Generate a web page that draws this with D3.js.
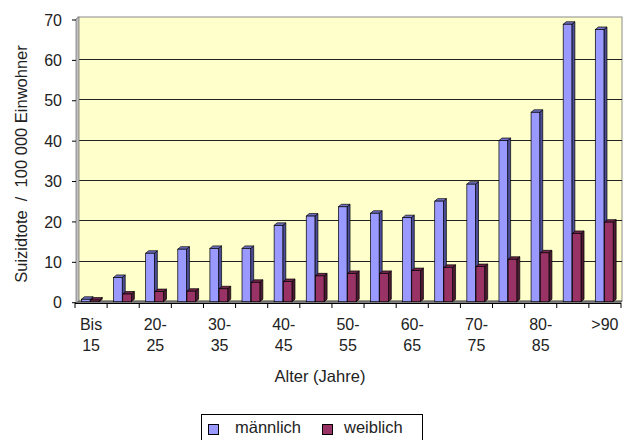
<!DOCTYPE html>
<html><head><meta charset="utf-8">
<script src="https://cdn.jsdelivr.net/npm/d3@7"></script>
<style>
html,body{margin:0;padding:0;background:#fff;}
svg{display:block;font-family:"Liberation Sans",Arial,sans-serif;}
</style></head>
<body>
<svg id="c" width="629" height="440"></svg>
<script>
const categories = ["Bis 15","15-20","20-25","25-30","30-35","35-40","40-45","45-50","50-55","55-60","60-65","65-70","70-75","75-80","80-85","85-90",">90"];
const tickLabels = [["Bis","15"],null,["20-","25"],null,["30-","35"],null,["40-","45"],null,["50-","55"],null,["60-","65"],null,["70-","75"],null,["80-","85"],null,[">90",""]];
const maleValues   = [0.6, 6.0, 12.0, 13.0, 13.2, 13.2, 18.9, 21.2, 23.5, 21.9, 20.8, 24.9, 29.1, 39.9, 46.9, 68.7, 67.4];
const femaleValues = [0.4, 1.9, 2.5, 2.6, 3.2, 4.8, 5.0, 6.4, 7.0, 7.0, 7.7, 8.5, 8.7, 10.5, 12.1, 16.9, 19.7];
const yTicks = [0,10,20,30,40,50,60,70];
const seriesNames = ["männlich","weiblich"];

const svg = d3.select("#c");
const dx = 3, dy = 2.5;
const x = d3.scaleBand().domain(categories).range([75, 621]).padding(0);
const y = d3.scaleLinear().domain([0,70]).range([301.7, 19]);
const bw = x.bandwidth();

const colors = {
  male: {front:"#9999FF", side:"#4C4C99", top:"#7373C8"},
  female: {front:"#993366", side:"#4D1A33", top:"#73264D"}
};

// back wall
const wallL = 78, wallR = 622, wallT = 17, wallB = 301;
svg.append("rect").attr("x", wallL).attr("y", wallT).attr("width", wallR-wallL).attr("height", wallB-wallT)
  .attr("fill","#FFFFCC").attr("stroke","#8c8c8c").attr("stroke-width",1);
// gridlines
svg.append("g").selectAll("line").data(yTicks.filter(v=>v>0 && v<70)).join("line")
  .attr("x1", wallL).attr("x2", wallR)
  .attr("y1", d=>Math.round(y(d)-0.5)+0.5).attr("y2", d=>Math.round(y(d)-0.5)+0.5)
  .attr("stroke","#222").attr("stroke-width",1);

// left wall
svg.append("path").attr("d", `M76,303 L76,19 L${wallL+1},${wallT} L${wallL+1},${wallB} Z`)
  .attr("fill","#c0c0c0").attr("stroke","#777").attr("stroke-width",0.8);
// floor
svg.append("path").attr("d", `M76,303.5 L${wallL+1},${wallB} L${wallR},${wallB} L${wallR-2},303.5 Z`)
  .attr("fill","#808080").attr("stroke","#333").attr("stroke-width",0.6);

// y axis ticks
const yg = svg.append("g");
yg.selectAll("line").data(yTicks).join("line")
  .attr("x1",72).attr("x2",76).attr("y1",d=>y(d)+1).attr("y2",d=>y(d)+1)
  .attr("stroke","#000");
yg.selectAll("text").data(yTicks).join("text")
  .attr("x",62).attr("y",d=>y(d)+1).attr("dy","0.35em").attr("text-anchor","end")
  .attr("font-size",16).attr("fill","#222").text(d=>d);

// x axis line and ticks
const xg = svg.append("g");
xg.append("line").attr("x1",75).attr("x2",621).attr("y1",303.5).attr("y2",303.5).attr("stroke","#000");
xg.selectAll("line.t").data(d3.range(categories.length+1)).join("line").attr("class","t")
  .attr("x1",i=>75+i*bw).attr("x2",i=>75+i*bw).attr("y1",303).attr("y2",308).attr("stroke","#000");
categories.forEach((c,i)=>{
  const lab = tickLabels[i];
  if(!lab) return;
  const t = xg.append("text").attr("text-anchor","middle").attr("font-size",16).attr("fill","#222");
  t.append("tspan").attr("x", x(c)+bw/2).attr("y",330).text(lab[0]);
  if(lab[1]) t.append("tspan").attr("x", x(c)+bw/2).attr("y",351).text(lab[1]);
});

// bars
function bar3d(g, x0, w, v, col){
  const yt = y(v), yb = y(0);
  g.append("path").attr("d",`M${x0+w},${yb} L${x0+w+dx},${yb-dy} L${x0+w+dx},${yt-dy} L${x0+w},${yt} Z`)
    .attr("fill",col.side).attr("stroke","#000").attr("stroke-width",0.7);
  g.append("path").attr("d",`M${x0},${yt} L${x0+dx},${yt-dy} L${x0+w+dx},${yt-dy} L${x0+w},${yt} Z`)
    .attr("fill",col.top).attr("stroke","#000").attr("stroke-width",0.7);
  g.append("rect").attr("x",x0).attr("y",yt).attr("width",w).attr("height",yb-yt)
    .attr("fill",col.front).attr("stroke","#000").attr("stroke-width",0.7);
}
const barG = svg.append("g");
const w = bw*0.27;
categories.forEach((c,i)=>{
  const x0 = x(c) + bw*0.2;
  bar3d(barG, x0, w, maleValues[i], colors.male);
  bar3d(barG, x0 + w + 0.5, w, femaleValues[i], colors.female);
});

// axis titles
svg.append("text").attr("transform","translate(27,164) rotate(-90)").attr("text-anchor","middle")
  .attr("font-size",16.5).attr("fill","#222").attr("xml:space","preserve").style("white-space","pre")
  .text("Suizidtote  /  100 000 Einwohner");
svg.append("text").attr("x",320).attr("y",382).attr("text-anchor","middle")
  .attr("font-size",16.5).attr("fill","#222").text("Alter (Jahre)");

// legend
const lg = svg.append("g");
lg.append("rect").attr("x",201.5).attr("y",414.5).attr("width",221).attr("height",40)
  .attr("fill","#fff").attr("stroke","#000");
const legItems = [{name:seriesNames[0], col:colors.male.front, sx:208, tx:235},{name:seriesNames[1], col:colors.female.front, sx:322, tx:344}];
legItems.forEach(it=>{
  lg.append("rect").attr("x",it.sx+0.5).attr("y",424.5).attr("width",10).attr("height",10)
    .attr("fill",it.col).attr("stroke","#000");
  lg.append("text").attr("x",it.tx).attr("y",432.5).attr("font-size",16.5).attr("fill","#222").text(it.name);
});
</script>
</body></html>
